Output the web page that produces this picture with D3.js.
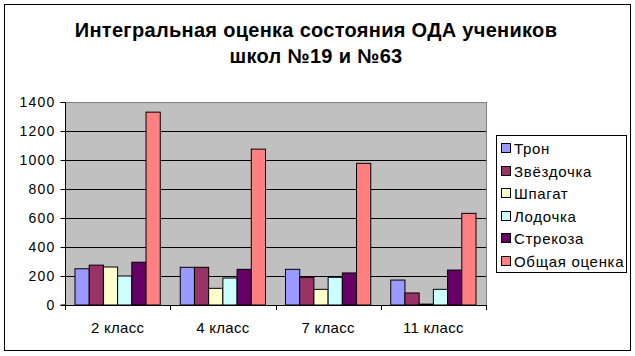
<!DOCTYPE html>
<html>
<head>
<meta charset="utf-8">
<script src="https://cdn.jsdelivr.net/npm/d3@7"></script>
<style>
  body { margin: 0; background: #fff; }
  text { font-family: "Liberation Sans", Arial, sans-serif; fill: #000; }
</style>
</head>
<body>
<svg id="chart" width="635" height="356"></svg>
<script>
var classes = ["2 класс", "4 класс", "7 класс", "11 класс"];
var seriesNames = ["Трон", "Звёздочка", "Шпагат", "Лодочка", "Стрекоза", "Общая оценка"];
var seriesColors = ["#9999FF", "#993366", "#FFFFCC", "#CCFFFF", "#660066", "#FF8080"];
// values per class, in the series order above
var tron = [250, 260, 246, 172];
var zvezdochka = [275, 260, 191, 83];
var shpagat = [262, 115, 108, 6];
var lodochka = [200, 186, 191, 108];
var strekoza = [295, 246, 221, 241];
var obshaya = [1330, 1075, 977, 632];
var yTicks = [0, 200, 400, 600, 800, 1000, 1200, 1400];

var seriesValues = [tron, zvezdochka, shpagat, lodochka, strekoza, obshaya];

var svg = d3.select("#chart");

// outer frame
svg.append("rect")
  .attr("x", 4.5).attr("y", 4.5)
  .attr("width", 626).attr("height", 346)
  .attr("fill", "#fff").attr("stroke", "#000").attr("stroke-width", 1);

// title
svg.append("text")
  .attr("x", 316).attr("y", 37)
  .attr("text-anchor", "middle")
  .attr("font-size", "20px").attr("font-weight", "bold")
  .attr("letter-spacing", "0.3px")
  .text("Интегральная оценка состояния ОДА учеников");
svg.append("text")
  .attr("x", 316).attr("y", 63)
  .attr("text-anchor", "middle")
  .attr("font-size", "20px").attr("font-weight", "bold")
  .attr("letter-spacing", "0.3px")
  .text("школ №19 и №63");

var plotL = 65, plotR = 486, plotT = 102, plotB = 305;

var x0 = d3.scaleBand()
  .domain(classes)
  .range([plotL, plotR])
  .paddingInner(0.19)
  .paddingOuter(0.095);

var x1 = d3.scaleBand()
  .domain(seriesNames)
  .range([0, x0.bandwidth()]);

var y = d3.scaleLinear()
  .domain([0, 1400])
  .range([plotB, plotT]);

// plot area
svg.append("rect")
  .attr("x", plotL + 0.5).attr("y", plotT + 0.5)
  .attr("width", plotR - plotL).attr("height", plotB - plotT)
  .attr("fill", "#C0C0C0").attr("stroke", "#808080");

// gridlines
svg.append("g")
  .selectAll("line")
  .data(yTicks.filter(function(d){ return d > 0 && d < 1400; }))
  .enter().append("line")
  .attr("x1", plotL).attr("x2", plotR)
  .attr("y1", function(d){ return Math.round(y(d)) + 0.5; })
  .attr("y2", function(d){ return Math.round(y(d)) + 0.5; })
  .attr("stroke", "#000");

// bars
var groups = svg.append("g")
  .selectAll("g")
  .data(classes)
  .enter().append("g")
  .attr("transform", function(d){ return "translate(" + x0(d) + ",0)"; });

groups.selectAll("rect")
  .data(function(d, i){
    return seriesNames.map(function(s, j){
      return { name: s, value: seriesValues[j][i], color: seriesColors[j] };
    });
  })
  .enter().append("rect")
  .attr("x", function(d){ return x1(d.name); })
  .attr("y", function(d){ return y(d.value); })
  .attr("width", x1.bandwidth())
  .attr("height", function(d){ return y(0) - y(d.value); })
  .attr("fill", function(d){ return d.color; })
  .attr("stroke", "#000").attr("stroke-width", 1);

// y axis
var yAxis = d3.axisLeft(y).tickValues(yTicks).tickFormat(d3.format("d")).tickSize(5).tickPadding(5);
var gy = svg.append("g")
  .attr("transform", "translate(" + (plotL + 0.5) + ",0)")
  .call(yAxis);
gy.selectAll("text")
  .attr("font-size", "14px")
  .attr("font-family", "Liberation Sans, Arial, sans-serif")
  .attr("letter-spacing", "1.2px")
  .attr("fill", "#000");
gy.selectAll("line, path").attr("stroke", "#000");
gy.select(".domain").attr("d", "M-5," + (plotT + 0.5) + "H0V" + plotB + "H-5");

// x axis
svg.append("line")
  .attr("x1", plotL).attr("x2", plotR)
  .attr("y1", plotB + 0.5).attr("y2", plotB + 0.5)
  .attr("stroke", "#000");
var boundaries = d3.range(classes.length + 1).map(function(i){ return plotL + i * (plotR - plotL) / classes.length; });
svg.append("g")
  .selectAll("line")
  .data(boundaries)
  .enter().append("line")
  .attr("x1", function(d){ return Math.round(d) + 0.5; })
  .attr("x2", function(d){ return Math.round(d) + 0.5; })
  .attr("y1", plotB).attr("y2", plotB + 5)
  .attr("stroke", "#000");
svg.append("g")
  .selectAll("text")
  .data(classes)
  .enter().append("text")
  .attr("x", function(d){ return x0(d) + x0.bandwidth() / 2; })
  .attr("y", 333)
  .attr("text-anchor", "middle")
  .attr("font-size", "15px")
  .attr("letter-spacing", "0.3px")
  .text(function(d){ return d; });

// legend
var legend = svg.append("g");
legend.append("rect")
  .attr("x", 496.5).attr("y", 135.5)
  .attr("width", 130).attr("height", 137)
  .attr("fill", "#fff").attr("stroke", "#000");
var items = legend.selectAll("g.item")
  .data(seriesNames)
  .enter().append("g")
  .attr("class", "item")
  .attr("transform", function(d, i){ return "translate(501," + Math.round(148 + i * 22.6) + ")"; });
items.append("rect")
  .attr("x", 0.5).attr("y", -4.5)
  .attr("width", 9).attr("height", 9)
  .attr("fill", function(d, i){ return seriesColors[i]; })
  .attr("stroke", "#000");
items.append("text")
  .attr("x", 13).attr("y", 5.5)
  .attr("font-size", "15px")
  .attr("letter-spacing", "0.7px")
  .text(function(d){ return d; });
</script>
</body>
</html>
